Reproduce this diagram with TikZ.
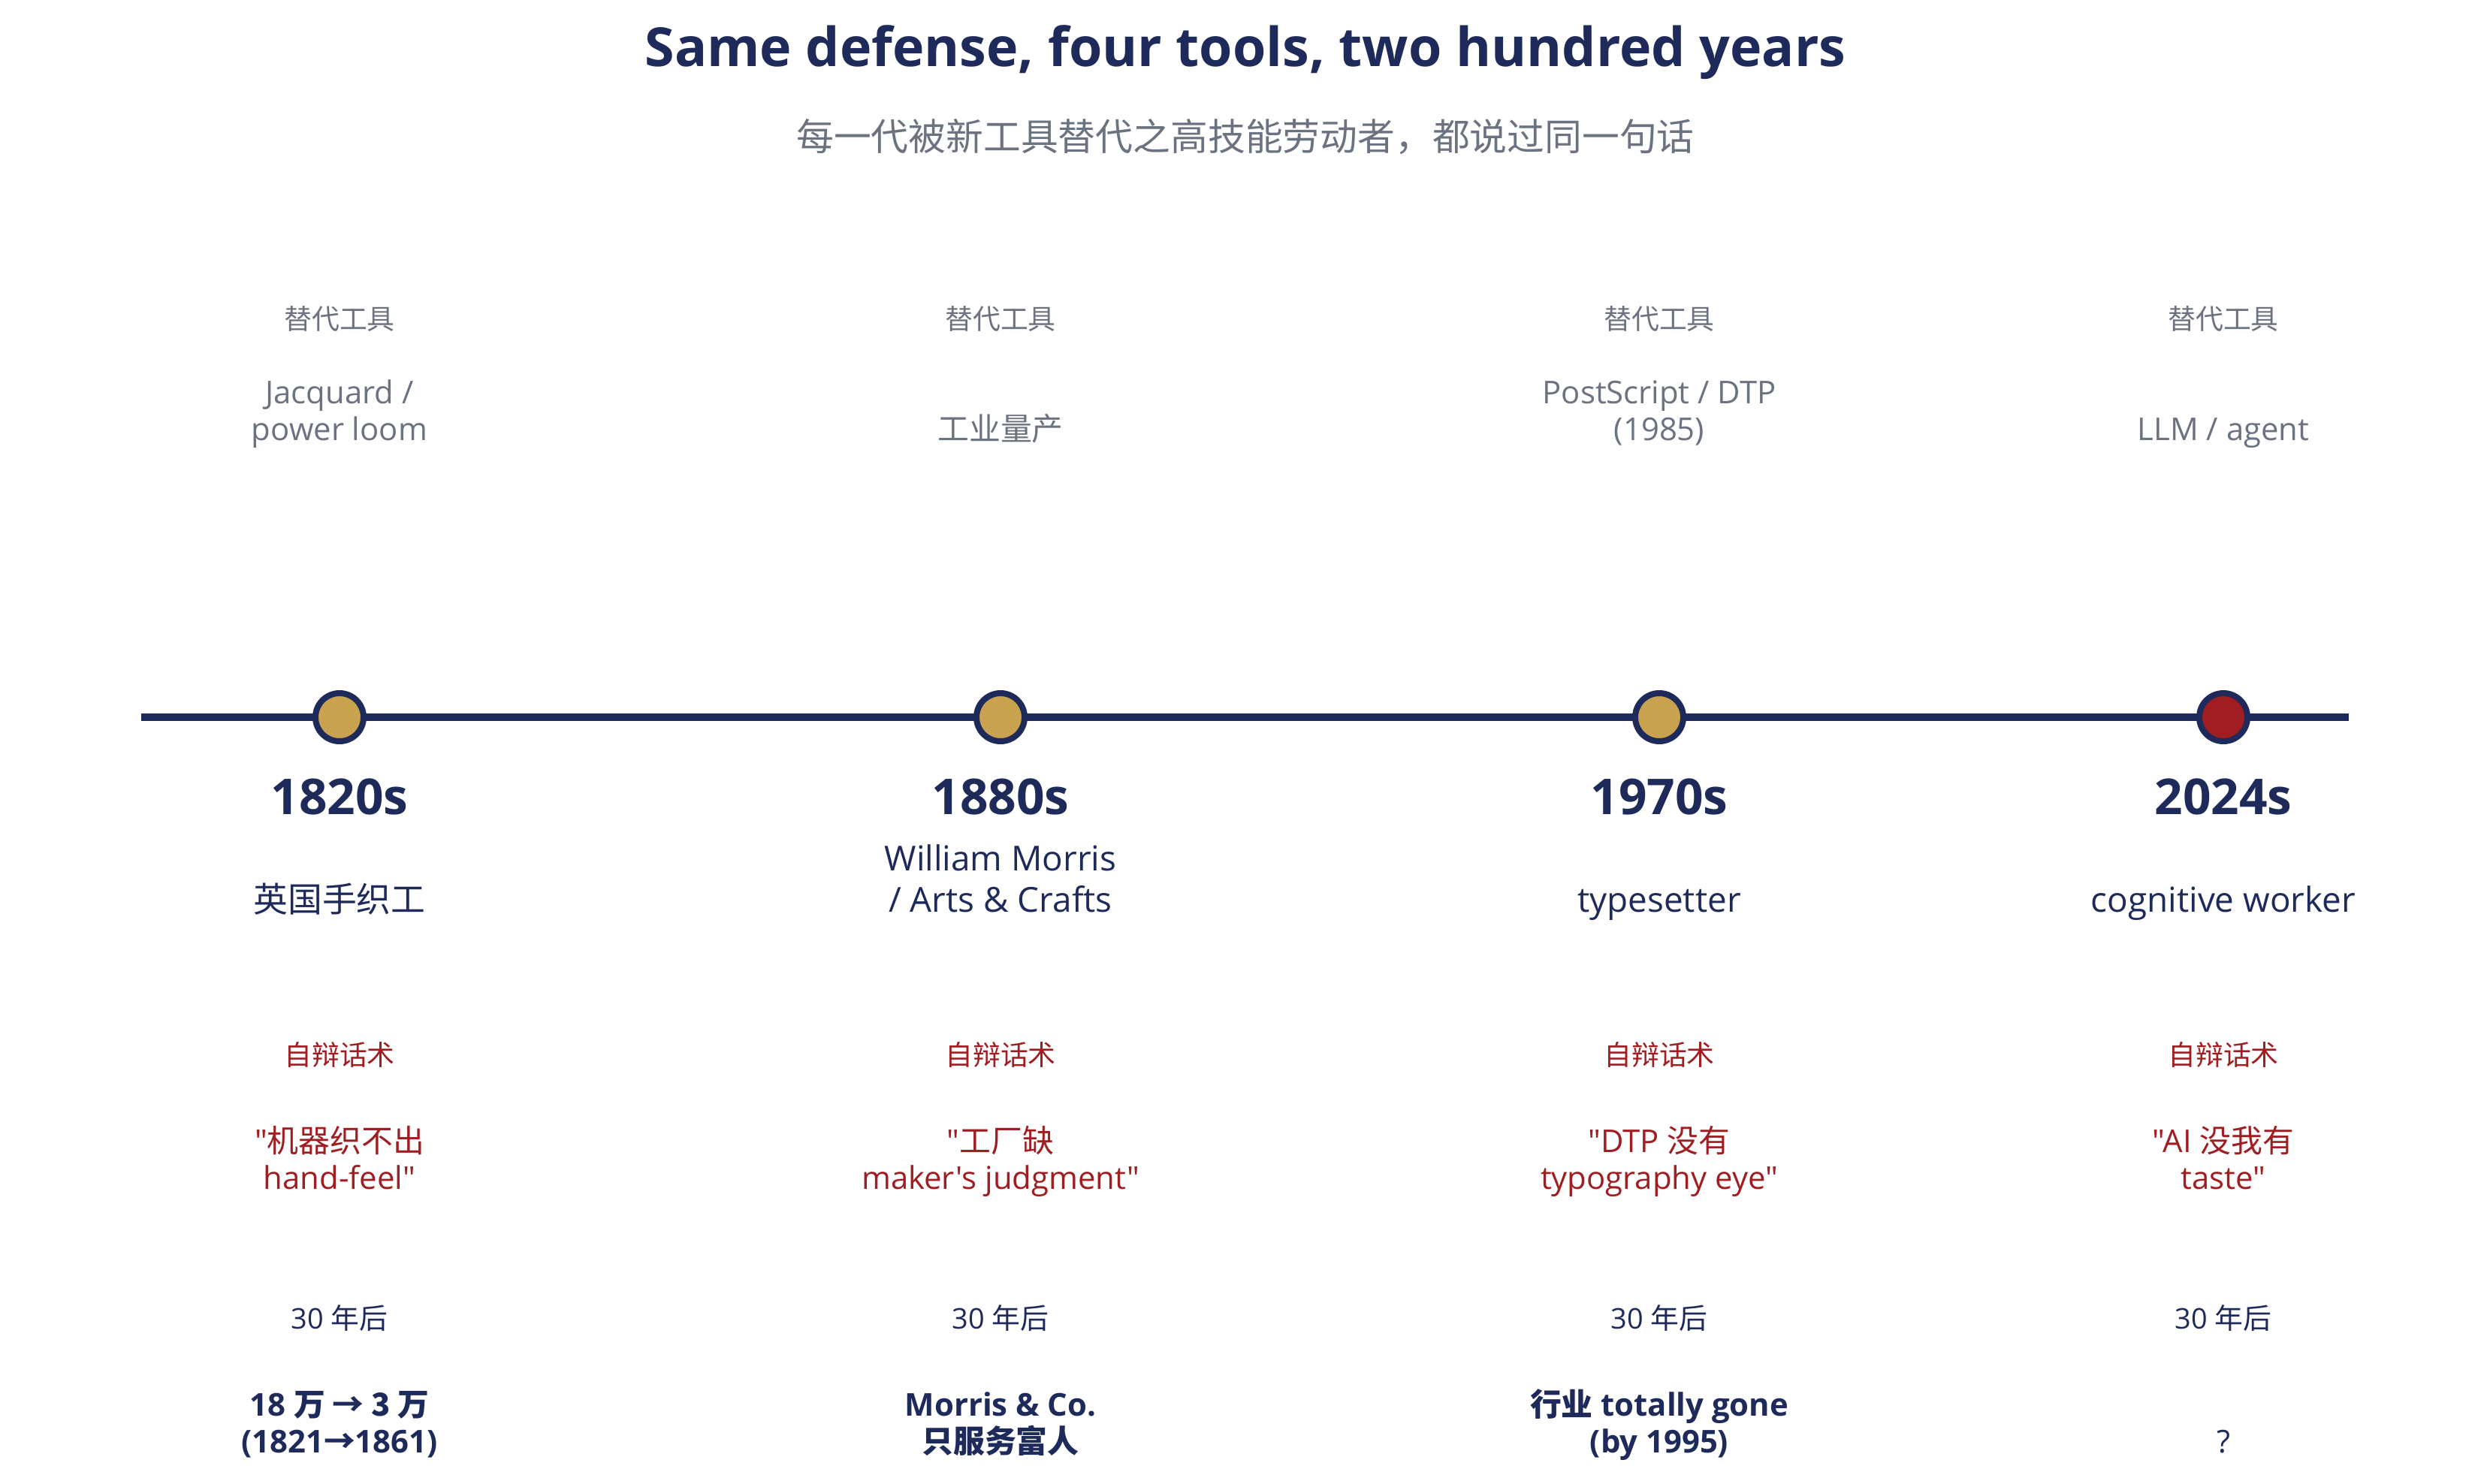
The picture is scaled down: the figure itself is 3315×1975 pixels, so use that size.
\documentclass[tikz,border=0pt]{standalone}
\usepackage{fontspec}
\newfontfamily\lat{Open Sans}
\newfontfamily\cjkfont{Noto Sans CJK SC}
\newcommand\zh[1]{{\cjkfont #1}}
\definecolor{navy}{HTML}{1E2A5A}
\definecolor{goldc}{HTML}{C8A24F}
\definecolor{redc}{HTML}{A01E22}
\definecolor{grayc}{HTML}{6B7280}
\tikzset{
  lbl/.style={inner sep=0pt, align=center},
  titlestyle/.style={lbl, text=navy, font=\lat\fontsize{72}{86}\selectfont\bfseries},
  subtitlestyle/.style={lbl, text=grayc, font=\cjkfont\fontsize{50}{60}\selectfont},
  toolhead/.style={lbl, text=grayc, font=\cjkfont\fontsize{37}{44}\selectfont},
  toolname/.style={lbl, text=grayc, anchor=south, font=\lat\fontsize{42}{49}\selectfont},
  yearlbl/.style={lbl, text=navy, font=\lat\fontsize{66}{80}\selectfont\bfseries},
  desclbl/.style={lbl, text=navy, anchor=south, font=\lat\fontsize{46}{55}\selectfont},
  defhead/.style={lbl, text=redc, font=\cjkfont\fontsize{37}{44}\selectfont},
  quotelbl/.style={lbl, text=redc, font=\lat\fontsize{42}{49}\selectfont},
  afterlbl/.style={lbl, text=navy, font=\lat\fontsize{38}{44}\selectfont},
  resultlbl/.style={lbl, text=navy, anchor=south, font=\lat\fontsize{42}{49}\selectfont\bfseries},
  qlbl/.style={lbl, text=navy, anchor=south, font=\lat\fontsize{42}{49}\selectfont},
  dot/.style={circle, draw=navy, line width=8bp, fill=goldc, minimum size=64bp, inner sep=0pt},
  axis/.style={draw=navy, line width=10bp}
}
\begin{document}
\begin{tikzpicture}[x=1bp, y=-1bp]
\useasboundingbox[fill=white] (0,0) rectangle (3315,1975);

\node[titlestyle] (title) at (1658,70) {Same defense, four tools, two hundred years};
\node[subtitlestyle] (subtitle) at (1658,182) {每一代被新工具替代之高技能劳动者，都说过同一句话};

% timeline
\coordinate (tl0) at (188,955);
\coordinate (tl1) at (3127,955);
\draw[axis] (tl0) -- (tl1);
\node[dot] (d1) at (452,955) {};
\node[dot] (d2) at (1332,955) {};
\node[dot] (d3) at (2209,955) {};
\node[dot, fill=redc] (d4) at (2960,955) {};

% tool headers
\node[toolhead] (th1) at (452,425) {替代工具};
\node[toolhead] (th2) at (1332,425) {替代工具};
\node[toolhead] (th3) at (2209,425) {替代工具};
\node[toolhead] (th4) at (2960,425) {替代工具};

\node[toolname] (tn1) at (452,601) {Jacquard /\\power loom\strut};
\node[toolname] (tn2) at (1332,601) {\zh{工业量产}\strut};
\node[toolname] (tn3) at (2209,601) {PostScript / DTP\\(1985)\strut};
\node[toolname] (tn4) at (2960,601) {LLM / agent\strut};

% years
\node[yearlbl] (y1) at (452,1061) {1820s};
\node[yearlbl] (y2) at (1332,1061) {1880s};
\node[yearlbl] (y3) at (2209,1061) {1970s};
\node[yearlbl] (y4) at (2960,1061) {2024s};

% who
\node[desclbl] (w1) at (452,1231) {\zh{英国手织工}\strut};
\node[desclbl] (w2) at (1332,1231) {William Morris\\/ Arts \& Crafts\strut};
\node[desclbl] (w3) at (2209,1231) {typesetter\strut};
\node[desclbl] (w4) at (2960,1231) {cognitive worker\strut};

% defense header
\node[defhead] (dh1) at (452,1404) {自辩话术};
\node[defhead] (dh2) at (1332,1404) {自辩话术};
\node[defhead] (dh3) at (2209,1404) {自辩话术};
\node[defhead] (dh4) at (2960,1404) {自辩话术};

% quotes
\node[quotelbl] (q1) at (452,1549) {\strut"\zh{机器织不出}\\hand-feel"\strut};
\node[quotelbl] (q2) at (1332,1549) {\strut"\zh{工厂缺}\\maker's judgment"\strut};
\node[quotelbl] (q3) at (2209,1549) {\strut"DTP \zh{没有}\\typography eye"\strut};
\node[quotelbl] (q4) at (2960,1549) {\strut"AI \zh{没我有}\\taste"\strut};

% 30 years later
\node[afterlbl] (a1) at (452,1755) {30 \zh{年后}};
\node[afterlbl] (a2) at (1332,1755) {30 \zh{年后}};
\node[afterlbl] (a3) at (2209,1755) {30 \zh{年后}};
\node[afterlbl] (a4) at (2960,1755) {30 \zh{年后}};

% results
\node[resultlbl] (r1) at (452,1949) {18 \zh{万 → 3 万}\\(1821\zh{→}1861)\strut};
\node[resultlbl] (r2) at (1332,1949) {Morris \& Co.\\\zh{只服务富人}\strut};
\node[resultlbl] (r3) at (2209,1949) {\zh{行业} totally gone\\(by 1995)\strut};
\node[qlbl] (r4) at (2960,1949) {?\strut};
\end{tikzpicture}
\end{document}
